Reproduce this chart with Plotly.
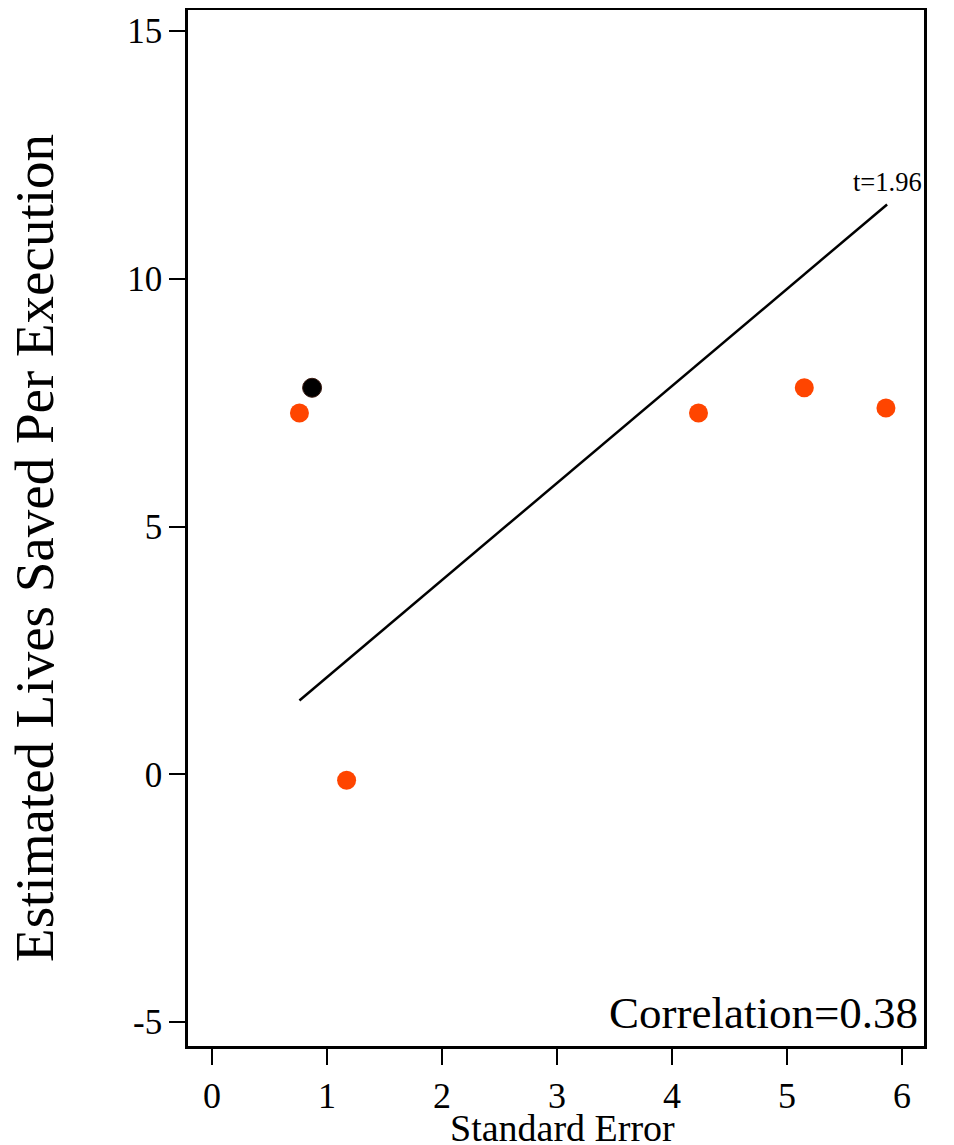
import plotly.graph_objects as go

# Data
study_se = [0.76, 1.17, 4.23, 5.15, 5.86]
study_est = [7.29, -0.12, 7.29, 7.80, 7.39]
pooled_se = [0.87]
pooled_est = [7.80]
line_se = [0.76, 5.87]
line_est = [1.49, 11.50]
x_ticks = [0, 1, 2, 3, 4, 5, 6]
x_ticktext = ["0", "1", "2", "3", "4", "5", "6"]
y_ticks = [-5, 0, 5, 10, 15]
y_ticktext = ["-5", "0", "5", "10", "15"]
t_label = "t=1.96"
corr_label = "Correlation=0.38"
x_title = "Standard Error"
y_title = "Estimated Lives Saved Per Execution"

FONT = "Liberation Serif, Times New Roman, serif"

fig = go.Figure()
fig.add_trace(go.Scatter(x=line_se, y=line_est, mode="lines",
                         line=dict(color="black", width=2.5), showlegend=False, hoverinfo="skip"))
fig.add_trace(go.Scatter(x=study_se, y=study_est, mode="markers",
                         marker=dict(color="#FF4500", size=19, line=dict(width=0)), showlegend=False))
fig.add_trace(go.Scatter(x=pooled_se, y=pooled_est, mode="markers",
                         marker=dict(color="black", size=19, line=dict(color="#3a1a10", width=1)), showlegend=False))

fig.add_annotation(x=5.56, y=11.95, text=t_label, showarrow=False, xanchor="left", yanchor="middle",
                   font=dict(family=FONT, size=26.5, color="black"))
fig.add_annotation(x=0.9946, xref="paper", y=-4.82, yref="y", text=corr_label, showarrow=False,
                   xanchor="right", yanchor="middle", font=dict(family=FONT, size=45, color="black"))
fig.add_annotation(x=0.5095, xref="paper", y=-0.079, yref="paper", text=x_title, showarrow=False,
                   xanchor="center", yanchor="middle", font=dict(family=FONT, size=38, color="black"))
fig.add_annotation(x=-0.208, xref="paper", y=0.4807, yref="paper", text=y_title, showarrow=False,
                   textangle=-90, xanchor="center", yanchor="middle",
                   font=dict(family=FONT, size=55, color="black"))

axis_common = dict(showgrid=False, zeroline=False, showline=True, mirror=True, linecolor="black",
                   linewidth=2.5, ticks="outside", ticklen=16, tickwidth=2, tickcolor="black")

fig.update_xaxes(range=[-0.209, 6.191], tickvals=x_ticks, ticktext=x_ticktext,
                 tickfont=dict(family=FONT, size=36, color="black"), **axis_common)
fig.update_yaxes(range=[-5.484, 15.424], tickvals=y_ticks, ticktext=y_ticktext,
                 tickfont=dict(family=FONT, size=35, color="black"), **axis_common)

fig.update_layout(width=946, height=1137, margin=dict(l=180, r=30, t=2, b=99, autoexpand=False),
                  plot_bgcolor="white", paper_bgcolor="white", font=dict(family=FONT, color="black"))

fig.write_html("out.html")
